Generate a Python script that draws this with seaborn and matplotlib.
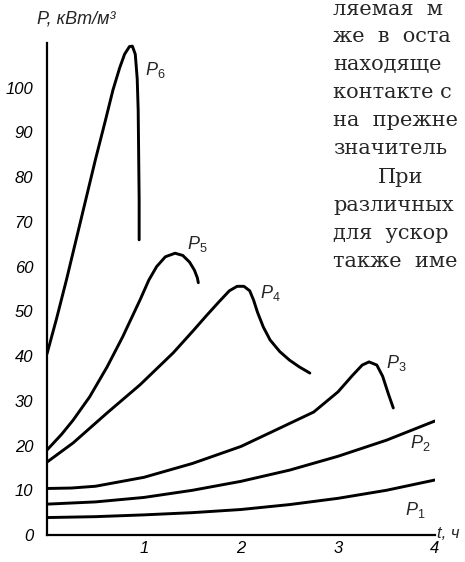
import matplotlib
matplotlib.use("Agg")
import matplotlib.pyplot as plt
import pandas as pd
import seaborn as sns

# curve data: t in hours, P in kW/m3
t_p1 = [0, 0.5, 1, 1.5, 2, 2.5, 3, 3.5, 4]
p_p1 = [3.9, 4.1, 4.5, 5.0, 5.7, 6.8, 8.2, 10.0, 12.3]

t_p2 = [0, 0.5, 1, 1.5, 2, 2.5, 3, 3.5, 4]
p_p2 = [6.9, 7.4, 8.4, 10.0, 12.0, 14.5, 17.6, 21.2, 25.5]

t_p3 = [0, 0.25, 0.5, 1, 1.5, 2, 2.4, 2.75, 3.0, 3.15, 3.25, 3.32, 3.4, 3.46, 3.52, 3.57]
p_p3 = [10.4, 10.5, 10.9, 12.9, 16.0, 19.8, 23.9, 27.5, 32.0, 35.7, 38.0, 38.7, 38.0, 35.5, 31.5, 28.4]

t_p4 = [0, 0.27, 0.62, 0.96, 1.3, 1.5, 1.65, 1.78, 1.88, 1.96, 2.03, 2.09, 2.13, 2.17,
        2.23, 2.3, 2.4, 2.5, 2.6, 2.71]
p_p4 = [16.3, 20.6, 27.3, 33.6, 40.7, 45.5, 49.2, 52.3, 54.6, 55.6, 55.6, 54.6, 52.5, 49.8,
        46.5, 43.6, 41.0, 39.1, 37.6, 36.2]

t_p5 = [0, 0.15, 0.27, 0.44, 0.62, 0.78, 0.96, 1.05, 1.13, 1.22, 1.32, 1.4, 1.47, 1.52, 1.55, 1.56]
p_p5 = [19.0, 22.5, 25.7, 30.9, 37.6, 44.3, 52.6, 57.0, 60.0, 62.2, 63.0, 62.5, 61.0, 59.2, 57.5, 56.4]

t_p6 = [0, 0.1, 0.2, 0.3, 0.4, 0.5, 0.6, 0.68, 0.75, 0.8, 0.85, 0.88, 0.91, 0.93, 0.94,
        0.945, 0.95, 0.95]
p_p6 = [40.5, 48.5, 57.0, 66.0, 75.0, 84.0, 92.5, 99.5, 104.5, 107.5, 109.2, 109.3, 107.5,
        102.0, 95.0, 85.0, 75.0, 66.0]

curve_names = ["P1", "P2", "P3", "P4", "P5", "P6"]
curve_t = [t_p1, t_p2, t_p3, t_p4, t_p5, t_p6]
curve_p = [p_p1, p_p2, p_p3, p_p4, p_p5, p_p6]

# label anchors (t, P) for each curve name
label_t = [3.69, 3.74, 3.50, 2.20, 1.44, 1.01]
label_p = [5.6, 20.5, 38.5, 54.0, 65.0, 104.0]

y_ticks = [0, 10, 20, 30, 40, 50, 60, 70, 80, 90, 100, 110]
y_labels = ["0", "10", "20", "30", "40", "50", "60", "70", "80", "90", "100", ""]
x_ticks = [1, 2, 3, 4]
x_labels = ["1", "2", "3", "4"]

# visible fragments of the book text beside the figure
page_lines = ["ляемая  м", "же  в  оста", "находяще", "контакте с", "на  прежне",
              "значитель", "При", "различных", "для  ускор", "также  име"]

sns.set_style("white")
plt.rcParams["font.family"] = ["Liberation Sans", "DejaVu Sans"]
plt.rcParams["mathtext.fontset"] = "custom"
plt.rcParams["mathtext.it"] = "Liberation Sans:italic"
plt.rcParams["mathtext.rm"] = "Liberation Sans"

W, H = 465, 562
fig = plt.figure(figsize=(W / 100, H / 100), dpi=100)
ax = fig.add_axes([47 / W, 27 / H, 388 / W, 492 / H])

rows = []
for name, ts, ps in zip(curve_names, curve_t, curve_p):
    for i, (t, p) in enumerate(zip(ts, ps)):
        rows.append({"curve": name, "order": i, "t": t, "P": p})
df = pd.DataFrame(rows)

for name in curve_names:
    sub = df[df["curve"] == name]
    sns.lineplot(data=sub, x="t", y="P", sort=False, color="black", lw=2.1,
                 ax=ax, legend=False, estimator=None)

for name, lt, lp in zip(curve_names, label_t, label_p):
    ax.text(lt, lp, r"$\mathit{P}_{" + name[1] + "}$", fontsize=13,
            ha="left", va="center")

ax.set_xlim(0, 4)
ax.set_ylim(0, 110)
ax.set_xlabel("")
ax.set_ylabel("")
sns.despine(ax=ax)
for side in ["left", "bottom"]:
    ax.spines[side].set_linewidth(1.6)
    ax.spines[side].set_color("black")

ax.set_yticks(y_ticks)
ax.set_yticklabels(y_labels, fontsize=12, fontstyle="italic")
ax.set_yticks([5, 15, 25, 35, 45, 55, 65, 75, 85, 95, 105], minor=True)
ax.set_xticks(x_ticks)
ax.set_xticklabels(x_labels, fontsize=12, fontstyle="italic")
ax.tick_params(axis="both", which="major", direction="in", length=5, width=1.2,
               colors="black")
ax.tick_params(axis="y", which="minor", direction="in", length=3, width=1.0, colors="black")
ax.tick_params(axis="y", which="major", pad=10)
ax.tick_params(axis="x", which="major", pad=4)

fig.text(37 / W, 1 - 19 / H, "P, кВт/м³", fontsize=13, fontstyle="italic",
         ha="left", va="center")
fig.text(437 / W, 1 - 533 / H, "t, ч", fontsize=12, fontstyle="italic",
         ha="left", va="center")

# book text on the right-hand side
baselines = [15, 42, 70, 98, 126, 154, 183, 211, 239, 267]
for line, base in zip(page_lines, baselines):
    x0 = 378 if line == "При" else 333
    fig.text(x0 / W, 1 - base / H, line, fontsize=15, family="DejaVu Serif",
             ha="left", va="baseline")

fig.savefig("out.png", dpi=100)
plt.close(fig)
